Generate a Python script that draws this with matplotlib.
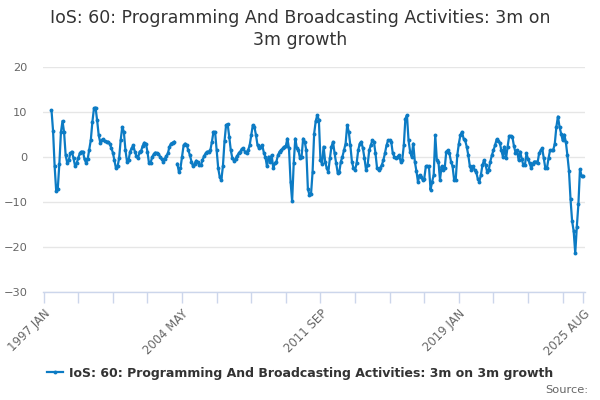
import numpy as np
import matplotlib
matplotlib.use("Agg")
import matplotlib.pyplot as plt

# ---- data (3m on 3m growth, %), monthly, first value = 1997 JUN ----
start_year = 1997
start_month_index = 5  # 1997 JUN (index 0 = 1997 JAN)
month_names = ["JAN", "FEB", "MAR", "APR", "MAY", "JUN",
               "JUL", "AUG", "SEP", "OCT", "NOV", "DEC"]

values_1997_2004 = [
    10.4, 5.8, -2.1, -7.6, -7.0, -1.5, 5.5,                              # 1997 JUN-DEC
    8.0, 5.5, 0.4, -1.3, -0.7, 0.8, 1.2, -0.3, -2.0, -1.4, -0.2, 0.8,    # 1998
    1.2, 1.2, -0.5, -1.3, -0.5, 1.6, 3.8, 7.8, 10.8, 11.0, 8.2, 4.9,     # 1999
    3.2, 3.8, 3.9, 3.5, 3.4, 3.4, 3.0, 2.0, 1.0, -0.7, -2.5, -2.1,       # 2000
    -0.3, 3.8, 6.7, 5.6, 1.6, -1.0, -0.7, 1.2, 2.0, 2.6, 1.2, 0.2,       # 2001
    -0.3, 1.2, 1.4, 2.5, 3.2, 3.0, 1.2, -1.4, -1.3, 0.0, 0.6, 1.0,       # 2002
    0.9, 0.7, 0.1, -0.5, -1.0, -0.4, 0.2, 0.8, 2.3, 3.0, 3.2, 3.4,       # 2003
    np.nan, -1.5, -3.3, -2.5, 0.0, 2.6, 3.0, 2.6, 1.5, 0.4, -1.0, -2.1,  # 2004
]
values_2005_2012 = [
    -1.5, -0.8, -1.2, -1.8, -1.8, -0.7, 0.2, 0.8, 1.2, 1.2, 1.5, 3.4,    # 2005
    5.6, 5.6, 1.5, -2.5, -4.5, -5.1, -2.0, 3.5, 7.1, 7.3, 4.5, 1.5,      # 2006
    -0.3, -0.8, -0.4, 0.2, 0.8, 1.2, 1.8, 1.9, 1.2, 1.0, 1.5, 2.6,       # 2007
    4.9, 7.1, 6.7, 4.9, 2.6, 1.9, 2.3, 2.6, 1.0, 0.0, -2.1, 0.1,         # 2008
    -1.0, 0.4, -2.5, -1.4, -1.0, 0.4, 1.2, 1.5, 1.9, 2.3, 2.5, 4.1,      # 2009
    1.9, -5.5, -9.8, -1.4, 4.1, 2.0, 1.5, -0.3, 0.1, 4.1, 3.4, 1.5,      # 2010
    -7.0, -8.5, -8.3, -3.3, 5.2, 8.0, 9.3, 8.2, -0.7, -1.5, 2.3, -1.0,   # 2011
    -2.5, -3.3, -0.3, 2.3, 3.4, 0.8, -1.4, -3.6, -3.3, -1.0, 0.1, 1.5,   # 2012
]
values_2013_2019 = [
    3.0, 7.1, 5.6, 2.6, -1.0, -2.5, -2.9, -1.4, 1.5, 3.0, 3.4, 1.9,      # 2013
    -0.3, -2.9, -1.8, 1.5, 2.6, 3.7, 3.4, 0.8, -2.5, -2.9, -2.4, -1.8,   # 2014
    -0.7, 0.8, 2.6, 3.7, 3.7, 3.4, 0.8, 0.1, -0.3, 0.1, 0.4, -1.0,       # 2015
    -0.7, 2.6, 8.5, 9.3, 3.7, 1.2, 0.1, 3.0, -1.0, -3.1, -5.5, -4.0,     # 2016
    -4.4, -5.1, -4.8, -2.1, -2.1, -2.1, -7.3, -5.5, -4.0, 4.9, -0.7, -1.0,  # 2017
    -5.1, -2.1, -2.9, -2.5, 1.2, 1.5, 0.8, -1.0, -2.1, -5.1, -5.1, 0.4,  # 2018
    3.0, 4.9, 5.6, 4.1, 3.7, 2.3, 0.4, -2.1, -2.9, -2.1, -2.9, -3.3,     # 2019
]
values_2020_2025 = [
    -4.8, -5.5, -4.0, -1.8, -0.7, -1.8, -3.3, -2.9, -1.0, 0.4, 1.5, 2.6,  # 2020
    3.9, 3.6, 3.2, 1.5, 0.1, 2.3, -0.3, 2.3, 4.7, 4.7, 4.5, 2.5,          # 2021
    1.0, 1.5, -0.7, 1.2, -0.5, -1.8, -1.8, 0.8, -0.5, -1.4, -2.5, -1.5,   # 2022
    -1.0, -1.0, -1.4, 0.8, 1.5, 1.9, -0.3, -2.5, -2.5, -0.3, 1.5, 1.5,    # 2023
    1.5, 3.0, 6.7, 9.0, 6.7, 5.2, 3.7, 5.0, 3.4, 0.4, -3.0, -9.4,         # 2024
    -14.2, -16.5, -21.4, -15.5, -10.5, -2.7, -4.2, -4.2,                  # 2025 JAN-AUG
]
series_name = "IoS: 60: Programming And Broadcasting Activities: 3m on 3m growth"
title_text = "IoS: 60: Programming And Broadcasting Activities: 3m on\n3m growth"
y_ticks = [-30, -20, -10, 0, 10, 20]

values = np.array(values_1997_2004 + values_2005_2012 + values_2013_2019 + values_2020_2025, dtype=float)
n_months = start_month_index + len(values)          # total categories from 1997 JAN
categories = [f"{start_year + k // 12} {month_names[k % 12]}" for k in range(n_months)]
x = np.arange(start_month_index, n_months)

# ---- figure ----
fig = plt.figure(figsize=(6, 4), dpi=100)
ax = fig.add_axes([43/600, 1 - 292/400, (585 - 43)/600, (292 - 67)/400])

line_color = "#0C7BC4"
ax.plot(x, values, color=line_color, lw=1.6, marker="o", ms=2.8,
        markeredgewidth=0, label=series_name, zorder=3)

ax.set_ylim(-30, 20)
ax.set_yticks(y_ticks)
ax.set_xlim(-0.4, n_months - 1 + 1.2)

last = n_months - 1
tick_pos = list(range(0, last, 22)) + [last]
ax.set_xticks(tick_pos)
labels = [categories[p] if (p % 88 == 0 or p == last) else "" for p in tick_pos]
ax.set_xticklabels(labels, rotation=45, ha="right", rotation_mode="anchor")

ax.grid(axis="y", color="#e6e6e6", lw=1)
ax.set_axisbelow(True)
for s in ["left", "right", "top"]:
    ax.spines[s].set_visible(False)
ax.spines["bottom"].set_color("#ccd6eb")
ax.spines["bottom"].set_linewidth(1)
ax.tick_params(axis="x", colors="#ccd6eb", length=8, width=1, direction="out", pad=3)
ax.tick_params(axis="y", length=0, pad=11)
for lab in ax.get_xticklabels():
    lab.set_color("#666666")
    lab.set_fontsize(8.4)
for lab in ax.get_yticklabels():
    lab.set_color("#666666")
    lab.set_fontsize(8.2)
    lab.set_horizontalalignment("right")

fig.text(0.5, 1 - 9/400, title_text, ha="center", va="top", fontsize=12.5,
         color="#333333", linespacing=1.3)

leg = fig.legend(loc="center", bbox_to_anchor=(0.5, 1 - 373/400), frameon=False,
                 handlelength=1.3, handletextpad=0.5, prop={"weight": "bold", "size": 9})
for t in leg.get_texts():
    t.set_color("#333333")

fig.text(588/600, 1 - 390/400, "Source:", ha="right", va="center", fontsize=8.2, color="#666666")

fig.savefig("out.png", dpi=100)
